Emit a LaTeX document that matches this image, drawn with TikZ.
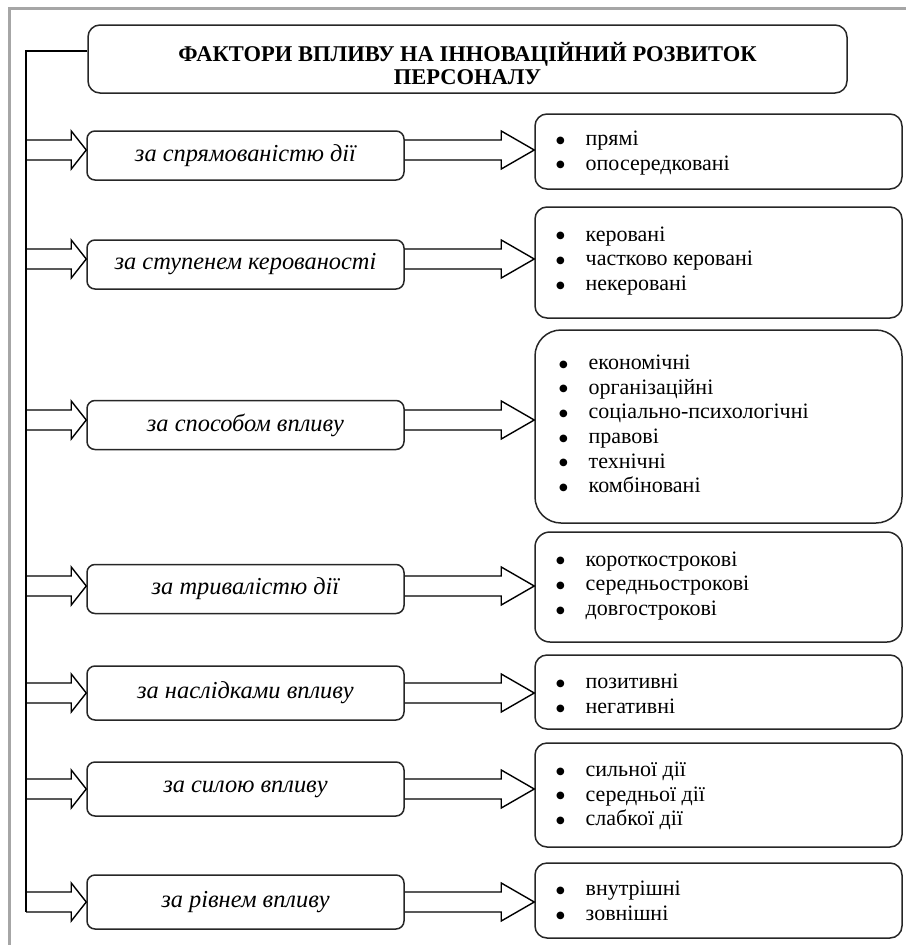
\documentclass[tikz,border=0pt]{standalone}
\usepackage{fontspec}
\setmainfont{Liberation Serif}
\newfontfamily\dejavu{DejaVu Sans}
\usetikzlibrary{calc}
\tikzset{
  box/.style={draw=black!85, line width=1.5pt, inner sep=0pt},
  lbox/.style={box, rounded corners=8pt, minimum width=317pt, minimum height=49pt,
    font=\fontsize{24.4}{26}\selectfont\itshape},
  rbox/.style={box, rounded corners=12pt, minimum width=367pt},
  listtext/.style={anchor=west, align=left, inner sep=0pt,
    font=\fontsize{22}{24.6}\selectfont},
  arr/.style={draw=black, line width=1.4pt, line join=miter},
  spine/.style={draw=black, line width=1.4pt},
  frameline/.style={draw=black!35, line width=3pt},
}
\newcommand{\blockarr}[3]{%
  \draw[arr] let \p1=(#1), \p2=(#2) in
    (\x1,\y2+10pt) -- (\x2-#3,\y2+10pt) -- (\x2-#3,\y2+19pt) -- (\x2,\y2)
    -- (\x2-#3,\y2-19pt) -- (\x2-#3,\y2-10pt) -- (\x1,\y2-10pt);}
\newcommand{\itm}[1]{\makebox[29.5pt][l]{\raisebox{2.4pt}{\dejavu\fontsize{10}{10}\selectfont ●}}#1}
\begin{document}
\begin{tikzpicture}[x=1pt,y=-1pt]
\useasboundingbox (0,0) rectangle (906,945);
\draw[frameline] (9.5,945) -- (9.5,8.5) -- (906,8.5);

% title
\node[box, rounded corners=12pt, minimum width=759pt, minimum height=68pt] (T) at (467.5,59) {};
\node[inner sep=0pt, align=center, font=\fontsize{22.5}{23}\selectfont\bfseries] (TT) at (467.5,63.5)
  {ФАКТОРИ ВПЛИВУ НА ІННОВАЦІЙНИЙ РОЗВИТОК\\ПЕРСОНАЛУ};

% row coordinates (arrow heights)
\coordinate (r1) at (0,150);
\coordinate (r2) at (0,259);
\coordinate (r3) at (0,420);
\coordinate (r4) at (0,586);
\coordinate (r5) at (0,693);
\coordinate (r6) at (0,789);
\coordinate (r7) at (0,902);

% left boxes
\node[lbox] (L1) at (245.5,155.5) {за спрямованістю дії};
\node[lbox] (L2) at (245.5,264.5) {за ступенем керованості};
\node[lbox] (L3) at (245.5,425) {за способом впливу};
\node[lbox] (L4) at (245.5,589) {за тривалістю дії};
\node[lbox, minimum height=54pt] (L5) at (245.5,693) {за наслідками впливу};
\node[lbox, minimum height=54pt] (L6) at (245.5,789) {за силою впливу};
\node[lbox, minimum height=54pt] (L7) at (245.5,902) {за рівнем впливу};

% right boxes
\node[rbox, minimum height=75pt] (R1) at (718.5,151.5) {};
\node[rbox, minimum height=111pt] (R2) at (718.5,262.5) {};
\node[rbox, rounded corners=26pt, minimum height=193pt] (R3) at (718.5,426.5) {};
\node[rbox, rounded corners=15pt, minimum height=110pt] (R4) at (718.5,587) {};
\node[rbox, minimum height=74pt] (R5) at (718.5,692) {};
\node[rbox, minimum height=104pt] (R6) at (718.5,795) {};
\node[rbox, minimum height=75pt] (R7) at (718.5,900.5) {};

% lists
\node[listtext] (T1) at (556,153) {\itm{прямі}\\\itm{опосередковані}};
\node[listtext] (T2) at (556,261) {\itm{керовані}\\\itm{частково керовані}\\\itm{некеровані}};
\node[listtext] (T3) at (559,424) {\itm{економічні}\\\itm{організаційні}\\\itm{соціально-психологічні}\\\itm{правові}\\\itm{технічні}\\\itm{комбіновані}};
\node[listtext] (T4) at (556,586) {\itm{короткострокові}\\\itm{середньострокові}\\\itm{довгострокові}};
\node[listtext] (T5) at (556,694) {\itm{позитивні}\\\itm{негативні}};
\node[listtext] (T6) at (556,796) {\itm{сильної дії}\\\itm{середньої дії}\\\itm{слабкої дії}};
\node[listtext] (T7) at (556,901) {\itm{внутрішні}\\\itm{зовнішні}};

% spine
\coordinate (stop) at (26,51);
\coordinate (sbot) at (26,912);
\draw[spine] (T.west |- stop) -- (stop) -- (sbot);

% arrows
\foreach \i in {1,...,7}{
  \blockarr{stop}{L\i.west |- r\i}{15pt}
  \blockarr{L\i.east}{R\i.west |- r\i}{33pt}
}
\end{tikzpicture}
\end{document}
